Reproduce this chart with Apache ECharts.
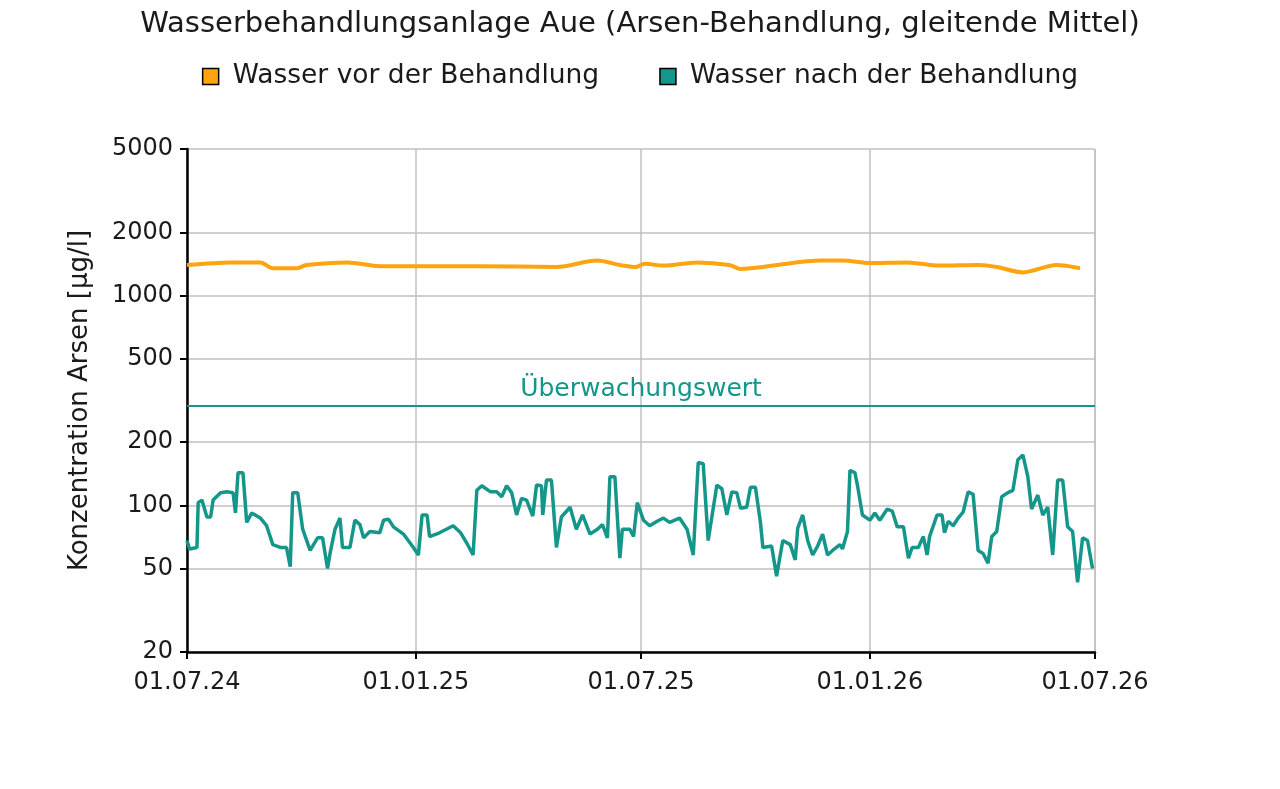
<!DOCTYPE html>
<html>
<head>
<meta charset="utf-8">
<title>Wasserbehandlungsanlage Aue</title>
<script src="https://cdn.jsdelivr.net/npm/echarts@6/dist/echarts.min.js"></script>
<style>
  html, body { margin: 0; padding: 0; background: #fff; }
  #chart { width: 1280px; height: 789px; }
</style>
</head>
<body>
<div id="chart"></div>
<script>
// Rohwasser (gleitendes Mittel)
const vorDates = [
  '2024-07-01', '2024-08-05', '2024-08-29', '2024-09-08', '2024-09-27', '2024-10-05',
  '2024-11-07', '2024-12-03', '2025-02-21', '2025-04-24', '2025-05-27', '2025-06-14',
  '2025-06-27', '2025-07-04', '2025-07-19', '2025-08-15', '2025-09-10', '2025-09-19',
  '2025-10-07', '2025-11-03', '2025-11-22', '2025-12-10', '2026-01-01', '2026-01-31',
  '2026-02-26', '2026-03-30', '2026-04-13', '2026-05-04', '2026-05-31', '2026-06-19',
];
const vorValues = [
  1400, 1440, 1440, 1350, 1350, 1400,
  1440, 1380, 1380, 1370, 1470, 1400,
  1370, 1420, 1390, 1440, 1400, 1340,
  1370, 1440, 1470, 1470, 1430, 1440,
  1390, 1400, 1370, 1290, 1400, 1350,
];

// Reinwasser (gleitendes Mittel)
const nachDates = [
  '2024-07-01', '2024-07-03', '2024-07-09', '2024-07-10', '2024-07-13', '2024-07-17',
  '2024-07-20', '2024-07-22', '2024-07-28', '2024-08-02', '2024-08-07', '2024-08-09',
  '2024-08-11', '2024-08-15', '2024-08-18', '2024-08-22', '2024-08-29', '2024-09-03',
  '2024-09-08', '2024-09-14', '2024-09-19', '2024-09-22', '2024-09-24', '2024-09-28',
  '2024-10-02', '2024-10-08', '2024-10-14', '2024-10-18', '2024-10-22', '2024-10-24',
  '2024-10-28', '2024-11-01', '2024-11-03', '2024-11-09', '2024-11-13', '2024-11-17',
  '2024-11-20', '2024-11-25', '2024-12-03', '2024-12-06', '2024-12-10', '2024-12-14',
  '2024-12-22', '2024-12-30', '2025-01-03', '2025-01-06', '2025-01-10', '2025-01-12',
  '2025-01-20', '2025-01-31', '2025-02-06', '2025-02-11', '2025-02-16', '2025-02-19',
  '2025-02-23', '2025-03-02', '2025-03-07', '2025-03-11', '2025-03-15', '2025-03-19',
  '2025-03-23', '2025-03-27', '2025-03-31', '2025-04-05', '2025-04-08', '2025-04-12',
  '2025-04-13', '2025-04-16', '2025-04-20', '2025-04-24', '2025-04-28', '2025-05-05',
  '2025-05-10', '2025-05-15', '2025-05-21', '2025-05-27', '2025-05-31', '2025-06-04',
  '2025-06-06', '2025-06-10', '2025-06-14', '2025-06-16', '2025-06-22', '2025-06-25',
  '2025-06-28', '2025-07-03', '2025-07-08', '2025-07-14', '2025-07-19', '2025-07-24',
  '2025-08-01', '2025-08-07', '2025-08-12', '2025-08-16', '2025-08-20', '2025-08-24',
  '2025-08-31', '2025-09-04', '2025-09-08', '2025-09-12', '2025-09-16', '2025-09-19',
  '2025-09-24', '2025-09-27', '2025-10-01', '2025-10-05', '2025-10-07', '2025-10-14',
  '2025-10-18', '2025-10-23', '2025-10-29', '2025-11-02', '2025-11-04', '2025-11-08',
  '2025-11-12', '2025-11-16', '2025-11-20', '2025-11-24', '2025-11-28', '2025-12-02',
  '2025-12-08', '2025-12-10', '2025-12-14', '2025-12-16', '2025-12-20', '2025-12-22',
  '2025-12-26', '2026-01-01', '2026-01-05', '2026-01-09', '2026-01-15', '2026-01-19',
  '2026-01-23', '2026-01-28', '2026-02-01', '2026-02-04', '2026-02-09', '2026-02-13',
  '2026-02-16', '2026-02-18', '2026-02-24', '2026-02-28', '2026-03-02', '2026-03-05',
  '2026-03-09', '2026-03-13', '2026-03-17', '2026-03-21', '2026-03-25', '2026-03-29',
  '2026-04-02', '2026-04-06', '2026-04-09', '2026-04-13', '2026-04-17', '2026-04-22',
  '2026-04-26', '2026-04-30', '2026-05-04', '2026-05-08', '2026-05-11', '2026-05-16',
  '2026-05-20', '2026-05-24', '2026-05-28', '2026-06-01', '2026-06-05', '2026-06-09',
  '2026-06-13', '2026-06-17', '2026-06-21', '2026-06-25', '2026-06-29',
];
const nachValues = [
  68, 62, 63, 103, 106, 88,
  88, 106, 115, 116, 115, 92,
  143, 143, 83, 92, 87, 80,
  65, 63, 63, 51, 115, 115,
  77, 61, 70, 70, 50, 59,
  77, 87, 63, 63, 85, 81,
  70, 75, 74, 85, 86, 79,
  73, 63, 58, 90, 90, 71,
  74, 80, 74, 66, 58, 118,
  124, 116, 116, 110, 124, 115,
  90, 108, 106, 89, 125, 124,
  90, 132, 132, 63, 88, 98,
  77, 90, 73, 77, 81, 70,
  137, 137, 56, 77, 77, 71,
  103, 85, 80, 84, 87, 83,
  87, 77, 58, 160, 158, 68,
  125, 120, 90, 116, 115, 97,
  98, 122, 122, 83, 63, 64,
  46, 68, 65, 55, 78, 90,
  68, 58, 64, 73, 58, 61,
  65, 62, 75, 147, 143, 125,
  90, 85, 92, 85, 96, 94,
  79, 79, 56, 63, 63, 71,
  58, 71, 90, 90, 74, 84,
  80, 87, 93, 116, 113, 61,
  59, 53, 71, 75, 110, 115,
  118, 165, 174, 137, 96, 112,
  90, 98, 58, 132, 132, 79,
  75, 43, 70, 68, 50,
];

const yTicks = [20, 50, 100, 200, 500, 1000, 2000, 5000];
const xTicks = ['2024-07-01', '2025-01-01', '2025-07-01', '2026-01-01', '2026-07-01'];
const ueberwachungswert = 300;

const ORANGE = '#ffa30f';
const TEAL = '#15968a';
const FONT = 'DejaVu Sans, Verdana, sans-serif';
const TEXT = '#1a1a1a';

const zip = (dates, values) => dates.map((d, i) => [d, values[i]]);

const chart = echarts.init(document.getElementById('chart'), null, { renderer: 'canvas' });
chart.setOption({
  animation: false,
  backgroundColor: '#ffffff',
  textStyle: { fontFamily: FONT },
  title: {
    text: 'Wasserbehandlungsanlage Aue (Arsen-Behandlung, gleitende Mittel)',
    left: 'center',
    top: 5,
    textStyle: { fontSize: 29, fontWeight: 'normal', color: TEXT, fontFamily: FONT },
  },
  legend: {
    top: 58,
    left: 'center',
    itemWidth: 16,
    itemHeight: 16,
    itemGap: 60,
    icon: 'rect',
    textStyle: { fontSize: 26.5, color: TEXT, fontFamily: FONT, padding: [0, 0, 0, 9] },
    data: [
      { name: 'Wasser vor der Behandlung', itemStyle: { color: ORANGE, borderColor: '#000', borderWidth: 1.5 } },
      { name: 'Wasser nach der Behandlung', itemStyle: { color: TEAL, borderColor: '#000', borderWidth: 1.5 } },
    ],
  },
  grid: { left: 187, right: 185, top: 149, bottom: 137, containLabel: false },
  xAxis: {
    type: 'time',
    min: '2024-07-01',
    max: '2026-07-01',
    axisLine: { show: true, lineStyle: { color: '#000', width: 2.5 } },
    axisTick: { show: true, length: 7, lineStyle: { color: '#000', width: 2 }, customValues: xTicks },
    axisLabel: {
      customValues: xTicks,
      formatter: '{dd}.{MM}.{yy}',
      fontSize: 24,
      color: TEXT,
      margin: 19,
      hideOverlap: false,
      showMinLabel: true,
      showMaxLabel: true,
    },
    splitLine: { show: true, lineStyle: { color: '#c0c0c0', width: 1.5 } },
  },
  yAxis: {
    type: 'log',
    logBase: 10,
    min: 20,
    max: 5000,
    name: 'Konzentration Arsen [µg/l]',
    nameLocation: 'middle',
    nameGap: 94,
    nameRotate: 90,
    nameTextStyle: { fontSize: 26, color: TEXT, fontFamily: FONT },
    axisLine: { show: true, lineStyle: { color: '#000', width: 2.5 } },
    axisTick: { show: true, length: 7, lineStyle: { color: '#000', width: 2 }, customValues: yTicks },
    axisLabel: {
      customValues: yTicks,
      formatter: (v) => String(v),
      fontSize: 24,
      color: TEXT,
      margin: 14,
    },
    splitLine: { show: true, lineStyle: { color: '#c0c0c0', width: 1.5 } },
  },
  series: [
    {
      name: 'Wasser vor der Behandlung',
      type: 'line',
      data: zip(vorDates, vorValues),
      smooth: 0.3,
      showSymbol: false,
      symbol: 'none',
      lineStyle: { color: ORANGE, width: 4 },
      itemStyle: { color: ORANGE },
    },
    {
      name: 'Wasser nach der Behandlung',
      type: 'line',
      data: zip(nachDates, nachValues),
      showSymbol: false,
      symbol: 'none',
      lineStyle: { color: TEAL, width: 3.5 },
      itemStyle: { color: TEAL },
      markLine: {
        silent: true,
        symbol: 'none',
        lineStyle: { color: TEAL, width: 2, type: 'solid' },
        label: {
          show: true,
          position: 'insideMiddleTop',
          formatter: 'Überwachungswert',
          color: TEAL,
          fontSize: 25,
          fontFamily: FONT,
          distance: 3,
        },
        data: [{ yAxis: ueberwachungswert }],
      },
    },
  ],
});
</script>
</body>
</html>
